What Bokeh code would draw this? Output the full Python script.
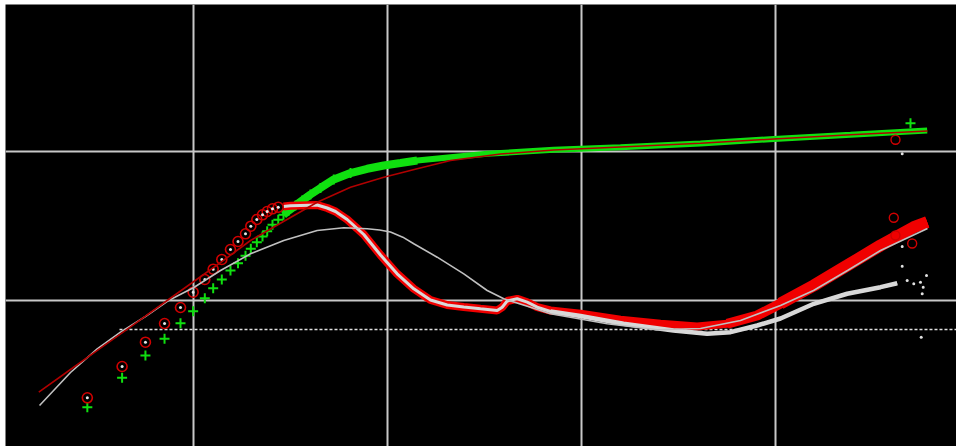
from bokeh.plotting import figure
from bokeh.models import Range1d, FixedTicker
from bokeh.embed import file_html
from bokeh.resources import INLINE

# ---------------- data (time, pressure change, derivative) ----------------
# early discrete samples (shared time axis)
t_early = [0.00282, 0.00426, 0.00562, 0.00705, 0.00852, 0.0099, 0.01137, 0.01256,
           0.01391, 0.01542, 0.01686, 0.01843, 0.01963, 0.02108, 0.02255, 0.02384,
           0.02539, 0.02719]
dp_early = [1.908, 3.005, 4.241, 5.489, 6.987, 8.41, 10.28, 12.0, 13.73, 15.78,
            17.66, 19.8, 22.06, 24.43, 26.68, 28.95, 31.96, 34.54]
der_early = [2.206, 3.578, 5.21, 6.955, 8.906, 11.28, 13.73, 16.09, 18.7, 21.82,
             24.7, 27.82, 31.28, 34.7, 37.31, 39.26, 40.94, 41.96]

# dense pressure data (green band)
t_pband = [0.02893, 0.03081, 0.03336, 0.03613, 0.03985, 0.04488, 0.05256, 0.0641,
           0.07815, 0.09515, 0.116, 0.1414, 0.2101, 0.3246, 0.7155, 1.579, 4.081,
           9.743, 24.21, 60.17]
dp_band = [37.31, 39.87, 43.07, 46.54, 51.05, 56.46, 64.38, 71.17, 75.96, 79.94,
           83.09, 86.4, 90.87, 95.8, 101.9, 106.1, 112.3, 120.4, 128.4, 137.3]

# dense derivative data (red band)
t_dband = [0.02893, 0.03143, 0.0354, 0.04315, 0.0486, 0.05363, 0.06163, 0.07505,
           0.09149, 0.1115, 0.1358, 0.1656, 0.2019, 0.2459, 0.2998, 0.3655, 0.3879,
           0.4115, 0.4634, 0.5218, 0.5876, 0.6879, 0.9824, 1.579, 2.539, 3.924,
           5.604, 8.0, 10.55, 15.66, 23.28, 34.57, 51.31, 60.17]
der_band = [42.42, 42.87, 43.07, 43.41, 41.44, 39.26, 34.7, 27.52, 20.04, 14.99,
            11.89, 10.0, 9.255, 8.975, 8.728, 8.503, 8.947, 9.847, 10.19, 9.665,
            8.947, 8.503, 8.078, 7.364, 6.923, 6.639, 6.923, 7.87, 9.474, 12.51,
            17.04, 23.22, 30.8, 33.28]

# second derivative set (white dots)
t_wband = [0.02893, 0.03143, 0.0354, 0.04315, 0.0486, 0.05363, 0.06163, 0.07505,
           0.09149, 0.1115, 0.1358, 0.1656, 0.2019, 0.2459, 0.2998, 0.3655, 0.3879,
           0.4115, 0.4634, 0.5218, 0.5876, 0.6879, 0.9824, 1.636, 2.962, 4.42,
           5.829, 8.0, 10.55, 15.66, 23.28, 34.57, 42.14]
der_wband = [42.42, 42.87, 43.07, 43.41, 41.44, 39.26, 34.7, 27.52, 20.04, 14.99,
             11.89, 10.0, 9.255, 8.975, 8.728, 8.503, 8.947, 9.847, 10.19, 9.665,
             8.947, 8.372, 7.808, 6.923, 6.243, 5.933, 6.081, 6.743, 7.514, 9.43,
             11.01, 12.19, 12.96]

# late scattered samples
t_p_out = [49.35]
dp_out = [153.7]
t_d_out = [41.3, 40.48, 41.3, 50.35]
der_out = [118.9, 35.62, 27.1, 23.95]
t_w_out = [44.72, 44.72, 44.72, 47.45, 51.31, 55.56, 59.68, 57.39, 56.7, 56.04]
der_w_out = [95.8, 22.86, 16.86, 13.52, 12.84, 13.16, 14.6, 12.19, 11.01, 5.63]

# model curves
t_model_p = [0.001585, 0.002309, 0.003296, 0.004707, 0.007275, 0.00998, 0.0137,
             0.01956, 0.02893, 0.04315, 0.0641, 0.09515, 0.1414, 0.2101, 0.3802,
             0.7155, 1.579, 4.081, 9.743, 24.21, 60.39]
model_p = [2.406, 3.417, 4.748, 6.608, 9.923, 13.31, 17.85, 25.08, 33.64, 45.33,
           57.15, 66.71, 75.96, 86.4, 95.48, 101.5, 106.4, 112.6, 120.4, 128.4, 136.2]
t_model_d = [0.001599, 0.002309, 0.00317, 0.00418, 0.00562, 0.007389, 0.00998,
             0.0137, 0.01956, 0.02903, 0.04315, 0.05918, 0.07815, 0.0905, 0.103,
             0.1192, 0.1358, 0.1793, 0.2459, 0.3246, 0.3953, 0.5428, 0.6879, 1.349,
             2.441, 4.081, 6.561, 10.55, 15.61, 23.37, 34.57, 60.39]
model_d = [1.959, 3.262, 4.704, 6.081, 7.748, 9.922, 12.13, 15.78, 20.42, 25.08,
           29.27, 30.51, 30.05, 29.5, 28.6, 26.4, 23.84, 19.38, 14.99, 11.58, 10.19,
           8.947, 8.078, 6.923, 6.31, 6.438, 7.285, 9.186, 11.58, 15.78, 21.48, 30.19]

# horizontal reference (stabilisation) line
ref_t = [0.00413, 90.0]
ref_level = [6.34, 6.34]

x_ticks = [0.01, 0.1, 1, 10]
y_ticks = [10, 100]

# ---------------- figure ----------------
p = figure(width=956, height=446, x_axis_type="log", y_axis_type="log",
           x_range=Range1d(0.0010676, 85.2), y_range=Range1d(1.0394, 962.1),
           output_backend="svg", toolbar_location=None,
           min_border_left=5, min_border_top=4, min_border_right=0, min_border_bottom=0,
           background_fill_color="black", border_fill_color="white")
p.outline_line_color = None
p.xaxis.visible = False
p.yaxis.visible = False
p.xgrid.ticker = FixedTicker(ticks=x_ticks)
p.ygrid.ticker = FixedTicker(ticks=y_ticks)
for g in (p.xgrid, p.ygrid):
    g.grid_line_color = "#c8c8c8"
    g.grid_line_width = 2
    g.grid_line_alpha = 1.0

p.line(ref_t, ref_level, line_color="#e0e0e0", line_width=1.5, line_dash="3 2")

# pressure data (green)
p.line(t_pband[:12], dp_band[:12], line_color="#10e010", line_width=8)
p.line(t_pband, dp_band, line_color="#10e010", line_width=6)
p.scatter(t_early, dp_early, marker="cross", size=10, line_width=2, line_color="#10e010")
p.scatter(t_pband[:8], dp_band[:8], marker="cross", size=10, line_width=2, line_color="#10e010")
p.scatter(t_p_out, dp_out, marker="cross", size=10, line_width=2, line_color="#10e010")

# derivative data (red circles + white dots)
p.line(t_dband, der_band, line_color="#f00000", line_width=8)
p.line(t_dband[26:], der_band[26:], line_color="#f00000", line_width=10)
p.line(t_dband[28:], der_band[28:], line_color="#f00000", line_width=12)
p.line(t_wband, der_wband, line_color="#d8d8d8", line_width=3)
p.line(t_wband[21:], der_wband[21:], line_color="#d8d8d8", line_width=4.5)
p.scatter(t_early, der_early, marker="circle", size=10, line_width=1.6,
          line_color="#d00000", fill_color=None)
p.scatter(t_early, der_early, marker="circle", size=3, line_color=None, fill_color="#e8e8e8")
p.scatter(t_d_out, der_out, marker="circle", size=9, line_width=1.4,
          line_color="#d00000", fill_color=None)
p.scatter(t_w_out, der_w_out, marker="circle", size=3, line_color=None, fill_color="#e0e0e0")

# model curves
p.line(t_model_d, model_d, line_color="#c0c0c0", line_width=1.6)
p.line(t_model_p, model_p, line_color="#b00000", line_width=1.6)

open("out.html", "w").write(file_html(p, INLINE))
